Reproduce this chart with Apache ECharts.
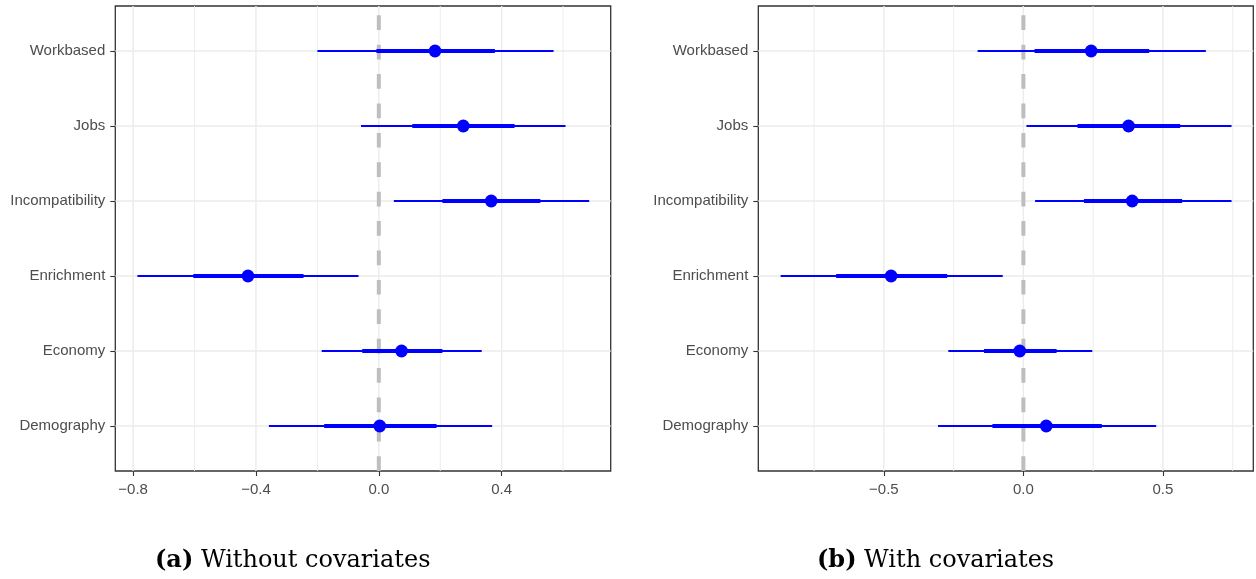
<!DOCTYPE html>
<html>
<head>
<meta charset="utf-8">
<title>Coefficient plots</title>
<script src="https://cdn.jsdelivr.net/npm/echarts@6.0.0/dist/echarts.min.js"></script>
<style>
html, body { margin: 0; padding: 0; background: #fff; }
#chart { width: 1256px; height: 579px; }
</style>
</head>
<body>
<div id="chart"></div>
<script>
// rows, bottom to top
var categories = ['Demography', 'Economy', 'Enrichment', 'Incompatibility', 'Jobs', 'Workbased'];

// (a) without covariates
var estA   = [0.003, 0.074, -0.426, 0.366, 0.275, 0.183];
var low95A = [-0.358, -0.186, -0.786, 0.049, -0.058, -0.200];
var upp95A = [0.369, 0.335, -0.066, 0.685, 0.608, 0.569];
var lowInA = [-0.178, -0.054, -0.604, 0.207, 0.109, -0.008];
var uppInA = [0.188, 0.207, -0.245, 0.526, 0.442, 0.378];

// (b) with covariates
var estB   = [0.082, -0.013, -0.474, 0.390, 0.377, 0.243];
var low95B = [-0.306, -0.269, -0.870, 0.042, 0.011, -0.164];
var upp95B = [0.476, 0.247, -0.074, 0.746, 0.746, 0.654];
var lowInB = [-0.111, -0.141, -0.671, 0.217, 0.194, 0.040];
var uppInB = [0.281, 0.119, -0.273, 0.569, 0.562, 0.451];

// x axis ticks
var ticksA = [-0.8, -0.4, 0, 0.4];
var minorA = [-0.6, -0.2, 0.2, 0.6];
var ticksB = [-0.5, 0, 0.5];
var minorB = [-0.75, -0.25, 0.25, 0.75];
var rowTicks = [1, 2, 3, 4, 5, 6];

var labelFont = 'Liberation Sans';
var serifFont = 'DejaVu Serif';
var blue = '#0000ff';

function fmtX(v) {
  var s = Math.abs(v).toFixed(1);
  return v < 0 ? '\u2212' + s : s;
}

function vGrid(params, api) {
  var cs = params.coordSys;
  var x = api.coord([api.value(0), 1])[0];
  return {
    type: 'line',
    shape: { x1: x, y1: cs.y, x2: x, y2: cs.y + cs.height },
    style: { stroke: '#ebebeb', lineWidth: api.value(1) ? 1.4 : 0.9 }
  };
}

function hGrid(params, api) {
  var cs = params.coordSys;
  var y = api.coord([0, api.value(1)])[1];
  return {
    type: 'line',
    shape: { x1: cs.x, y1: y, x2: cs.x + cs.width, y2: y },
    style: { stroke: '#ebebeb', lineWidth: 1.4 }
  };
}

function zeroLine(params, api) {
  var cs = params.coordSys;
  var x = api.coord([api.value(0), 1])[0];
  // drawn from bottom to top like ggplot
  return {
    type: 'line',
    shape: { x1: x, y1: cs.y + cs.height, x2: x, y2: cs.y },
    style: { stroke: '#bebebe', lineWidth: 4, lineDash: [14.7, 14.7] }
  };
}

function interval(params, api) {
  var y = api.value(1);
  var a = api.coord([api.value(2), y]);
  var b = api.coord([api.value(3), y]);
  var c = api.coord([api.value(4), y]);
  var d = api.coord([api.value(5), y]);
  var p = api.coord([api.value(0), y]);
  return {
    type: 'group',
    children: [
      { type: 'line', shape: { x1: a[0], y1: a[1], x2: b[0], y2: b[1] }, style: { stroke: blue, lineWidth: 2 } },
      { type: 'line', shape: { x1: c[0], y1: c[1], x2: d[0], y2: d[1] }, style: { stroke: blue, lineWidth: 3.8 } },
      { type: 'circle', shape: { cx: p[0], cy: p[1], r: 6.4 }, style: { fill: blue } }
    ]
  };
}

function rows(est, lo, hi, loIn, hiIn) {
  return categories.map(function (c, i) {
    return [est[i], i + 1, lo[i], hi[i], loIn[i], hiIn[i]];
  });
}

function gridData(major, minor) {
  return major.map(function (v) { return [v, 1]; })
    .concat(minor.map(function (v) { return [v, 0]; }));
}

function xAxisFor(idx, min, max, ticks) {
  return {
    type: 'value', gridIndex: idx, min: min, max: max,
    splitLine: { show: false },
    axisLine: { show: false, onZero: false },
    axisTick: { show: true, customValues: ticks, length: 5, lineStyle: { color: '#333333', width: 1.1 } },
    axisLabel: { customValues: ticks, formatter: fmtX, color: '#4d4d4d', fontSize: 15, fontFamily: labelFont, margin: 11 }
  };
}

function yAxisFor(idx) {
  return {
    type: 'value', gridIndex: idx, min: 0.4, max: 6.6,
    splitLine: { show: false },
    axisLine: { show: false, onZero: false },
    axisTick: { show: true, customValues: rowTicks, length: 5, lineStyle: { color: '#333333', width: 1.1 } },
    axisLabel: {
      customValues: rowTicks,
      formatter: function (v) { return categories[Math.round(v) - 1]; },
      color: '#4d4d4d', fontSize: 15, fontFamily: labelFont, margin: 10,
      padding: [4, 0, 0, 0]
    }
  };
}

function panelSeries(idx, data, major, minor) {
  return [
    { type: 'custom', xAxisIndex: idx, yAxisIndex: idx, z: 1, silent: true,
      renderItem: vGrid, data: gridData(major, minor) },
    { type: 'custom', xAxisIndex: idx, yAxisIndex: idx, z: 1, silent: true,
      renderItem: hGrid, data: rowTicks.map(function (r) { return [0, r]; }) },
    { type: 'custom', xAxisIndex: idx, yAxisIndex: idx, z: 2, silent: true,
      renderItem: zeroLine, data: [[0, 1]] },
    { type: 'custom', xAxisIndex: idx, yAxisIndex: idx, z: 3,
      renderItem: interval, encode: { x: [0, 2, 3, 4, 5], y: 1 }, data: data }
  ];
}

var myChart = echarts.init(document.getElementById('chart'));

var option = {
  animation: false,
  backgroundColor: '#ffffff',
  grid: [
    { left: 115.3, top: 6, width: 495.4, height: 465, show: true, borderColor: '#333333', borderWidth: 1.3, backgroundColor: 'transparent' },
    { left: 758.3, top: 6, width: 495, height: 465, show: true, borderColor: '#333333', borderWidth: 1.3, backgroundColor: 'transparent' }
  ],
  xAxis: [
    xAxisFor(0, -0.858, 0.755, ticksA),
    xAxisFor(1, -0.95, 0.824, ticksB)
  ],
  yAxis: [yAxisFor(0), yAxisFor(1)],
  series: panelSeries(0, rows(estA, low95A, upp95A, lowInA, uppInA), ticksA, minorA)
    .concat(panelSeries(1, rows(estB, low95B, upp95B, lowInB, uppInB), ticksB, minorB)),
  graphic: [
    { type: 'text', x: 155, y: 561, style: {
      text: '{b|(a)} Without covariates', fill: '#000', font: '24px "' + serifFont + '"', verticalAlign: 'middle',
      rich: { b: { fontWeight: 'bold', fontSize: 24, fontFamily: serifFont } } } },
    { type: 'text', x: 817, y: 561, style: {
      text: '{b|(b)} With covariates', fill: '#000', font: '24px "' + serifFont + '"', verticalAlign: 'middle',
      rich: { b: { fontWeight: 'bold', fontSize: 24, fontFamily: serifFont } } } }
  ]
};

myChart.setOption(option);
</script>
</body>
</html>
